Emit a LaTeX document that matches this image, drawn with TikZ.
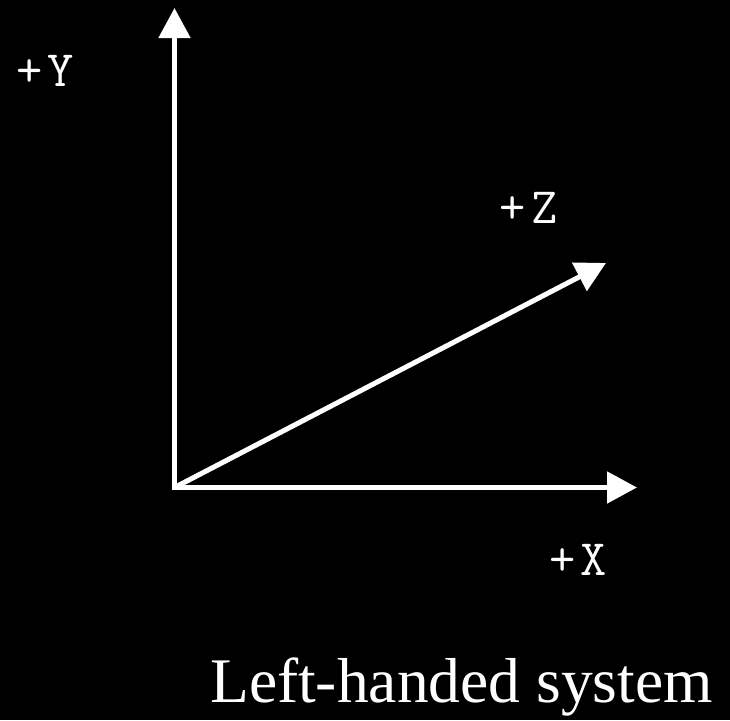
\documentclass[tikz,border=0pt]{standalone}
\usepackage{fontspec}
\setmainfont{Liberation Serif}
\usetikzlibrary{arrows.meta}
\begin{document}
\begin{tikzpicture}[x=1pt,y=-1pt,
  axis/.style={draw=white,line width=5pt,-{Triangle[length=30pt,width=31pt]}},
  axislabel/.style={text=white,font=\ttfamily\fontsize{51}{51}\selectfont,inner sep=0pt,anchor=base},
  caption/.style={text=white,font=\fontsize{63.5}{64}\selectfont,inner sep=0pt,anchor=base west}]
  \fill[black] (0,0) rectangle (730,720);
  \useasboundingbox (0,0) rectangle (730,720);
  \coordinate (o) at (174.5,487.5);
  \coordinate (ytip) at (174.5,8);
  \coordinate (xtip) at (637,487.5);
  \coordinate (ztip) at (606,263);
  \draw[axis,line cap=rect] (o) -- (ytip);
  \draw[axis,line cap=rect] (o) -- (xtip);
  \draw[axis] (o) -- (ztip);
  \node[axislabel] (ly) at (45,86) {+\hspace{5pt}Y};
  \node[axislabel] (lz) at (528.5,223) {+\hspace{5pt}Z};
  \node[axislabel] (lx) at (578,575) {+\hspace{5pt}X};
  \node[caption] (cap) at (210,702) {Left-handed system};
\end{tikzpicture}
\end{document}
